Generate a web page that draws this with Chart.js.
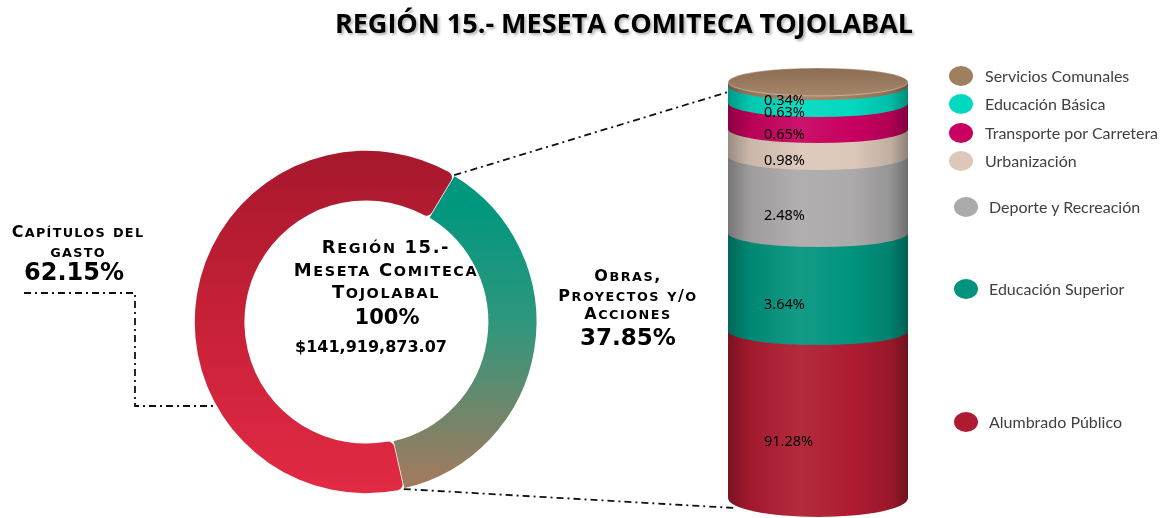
<!DOCTYPE html>
<html lang="es">
<head>
<meta charset="utf-8">
<title>Región 15.- Meseta Comiteca Tojolabal</title>
<script src="https://cdn.jsdelivr.net/npm/chart.js@4.4.1/dist/chart.umd.min.js"></script>
<style>
  html, body { margin: 0; padding: 0; background: #fff; }
  #wrap { position: relative; width: 1165px; height: 518px; overflow: hidden; }
  canvas { position: absolute; left: 0; top: 0; }
  #dona { z-index: 1; }
  #cilindro { z-index: 2; }
  .t { position: absolute; z-index: 3; transform: translate(-50%, -50%); white-space: nowrap; color: #000; line-height: 1; }
  .sc { font-family: "DejaVu Sans", sans-serif; font-weight: bold; }
  .sc .m { font-size: 0.8em; text-transform: uppercase; }
  .num { font-family: "DejaVu Sans", sans-serif; font-weight: bold; }
  #titulo { font-family: "Open Sans", sans-serif; font-weight: 700; font-size: 27px; text-shadow: 2px 2px 3px rgba(0,0,0,0.3); }
  .ley { position: absolute; z-index: 3; font-family: "Lato", sans-serif; font-weight: 400; font-size: 16px; color: #404040; white-space: nowrap; line-height: 1; }
  .ley i { position: absolute; width: 24px; height: 20px; border-radius: 50%; top: -10px; }
  .ley span { position: absolute; top: -8px; }
</style>
</head>
<body>
<div id="wrap">
  <canvas id="dona" width="1165" height="518"></canvas>
  <canvas id="cilindro" width="1165" height="518"></canvas>

  <div class="t" id="titulo" style="left:624px; top:22px;">REGIÓN 15.- MESETA COMITECA TOJOLABAL</div>

  <div class="t sc" style="left:78px; top:232px; font-size:16px; letter-spacing:1.3px;">Capítulos del</div>
  <div class="t sc" style="left:78px; top:252px; font-size:16px; letter-spacing:1.3px;">gasto</div>
  <div class="t num" style="left:74px; top:272px; font-size:24px;">62.15%</div>

  <div class="t sc" style="left:386px; top:247px; font-size:18px; letter-spacing:1.6px;">Región 15.-</div>
  <div class="t sc" style="left:386px; top:270px; font-size:18px; letter-spacing:1.6px;">Meseta Comiteca</div>
  <div class="t sc" style="left:386px; top:292px; font-size:18px; letter-spacing:1.6px;">Tojolabal</div>
  <div class="t num" style="left:387px; top:317px; font-size:21px;">100%</div>
  <div class="t num" style="left:371px; top:347px; font-size:16px;">$141,919,873.07</div>

  <div class="t sc" style="left:628px; top:276px; font-size:16px; letter-spacing:1.5px;">Obras,</div>
  <div class="t sc" style="left:628px; top:296px; font-size:16px; letter-spacing:1.5px;">Proyectos y/o</div>
  <div class="t sc" style="left:628px; top:314px; font-size:16px; letter-spacing:1.5px;">Acciones</div>
  <div class="t num" style="left:628px; top:337px; font-size:23px;">37.85%</div>

  <div id="leyenda"></div>
</div>

<script>
// ---- datos ----
const resumenEtiquetas = ['Obras, Proyectos y/o Acciones', 'Capítulos del gasto'];
const resumenValores = [37.85, 62.15];

const categorias = ['Alumbrado Público', 'Educación Superior', 'Deporte y Recreación',
  'Urbanización', 'Transporte por Carretera', 'Educación Básica', 'Servicios Comunales'];
const porcentajes = [91.28, 3.64, 2.48, 0.98, 0.65, 0.63, 0.34];
// alto de cada franja tal como se ve en el cilindro (la figura no está a escala)
const altoFranja = [167, 98, 77, 27, 26, 17, 4];
const colores = ['#AE1B30', '#00937E', '#ABA9A9', '#DCC7B8', '#C8005F', '#00D8BF', '#A07E60'];

// versalitas: minúsculas en mayúscula pequeña, el texto queda igual
document.querySelectorAll('.sc').forEach(el => {
  const txt = el.textContent;
  el.textContent = '';
  let run = '', low = null;
  const flush = () => {
    if (!run) return;
    if (low) {
      const s = document.createElement('span');
      s.className = 'm';
      s.textContent = run;
      el.appendChild(s);
    } else {
      el.appendChild(document.createTextNode(run));
    }
    run = '';
  };
  for (const ch of txt) {
    const isLow = ch !== ch.toUpperCase();
    if (low !== null && isLow !== low) flush();
    low = isLow;
    run += ch;
  }
  flush();
});

// ---- utilidades de color ----
function hexRgb(h) {
  const n = parseInt(h.slice(1), 16);
  return [(n >> 16) & 255, (n >> 8) & 255, n & 255];
}
function tono(h, f) {
  // f < 0 oscurece, f > 0 aclara
  const c = hexRgb(h).map(v => f < 0 ? v * (1 + f) : v + (255 - v) * f);
  return 'rgb(' + c.map(v => Math.round(v)).join(',') + ')';
}
function degradadoCilindro(ctx, a, color) {
  const g = ctx.createLinearGradient(a.left, 0, a.right, 0);
  g.addColorStop(0, tono(color, -0.3));
  g.addColorStop(0.12, tono(color, -0.08));
  g.addColorStop(0.4, tono(color, 0.07));
  g.addColorStop(0.7, color);
  g.addColorStop(0.9, tono(color, -0.12));
  g.addColorStop(1, tono(color, -0.35));
  return g;
}

// ---- dona ----
function colorDona(context) {
  const chart = context.chart;
  const a = chart.chartArea;
  if (!a) return context.dataIndex === 0 ? '#00937E' : '#C21F36';
  const ctx = chart.ctx;
  const g = ctx.createLinearGradient(0, a.top, 0, a.bottom);
  if (context.dataIndex === 0) {
    g.addColorStop(0, '#00977F');
    g.addColorStop(0.15, '#00977F');
    g.addColorStop(0.5, '#2E977D');
    g.addColorStop(0.95, '#9E7B5E');
    g.addColorStop(1, '#9E7B5E');
  } else {
    g.addColorStop(0, '#A6182D');
    g.addColorStop(0.5, '#C72137');
    g.addColorStop(1, '#E22A44');
  }
  return g;
}

const guias = {
  id: 'guias',
  afterDraw(chart) {
    const ctx = chart.ctx;
    const arco = chart.getDatasetMeta(0).data[0];
    const r = arco.outerRadius;
    const p1 = [arco.x + r * Math.cos(arco.startAngle), arco.y + r * Math.sin(arco.startAngle)];
    const p2 = [arco.x + r * Math.cos(arco.endAngle), arco.y + r * Math.sin(arco.endAngle)];
    ctx.save();
    ctx.strokeStyle = '#111';
    ctx.lineWidth = 1.8;
    ctx.setLineDash([7, 4, 2, 4]);
    ctx.beginPath();
    ctx.moveTo(24, 293); ctx.lineTo(135, 293); ctx.lineTo(135, 406); ctx.lineTo(213, 406);
    ctx.stroke();
    ctx.beginPath();
    ctx.moveTo(p1[0], p1[1]); ctx.lineTo(728, 92);
    ctx.stroke();
    ctx.beginPath();
    ctx.moveTo(p2[0], p2[1]); ctx.lineTo(735, 508);
    ctx.stroke();
    ctx.restore();
  }
};

new Chart(document.getElementById('dona'), {
  type: 'doughnut',
  data: {
    labels: resumenEtiquetas,
    datasets: [{
      data: resumenValores,
      backgroundColor: colorDona,
      borderColor: '#fff',
      borderWidth: [1.5, 0],
      borderRadius: [0, 6]
    }]
  },
  options: {
    responsive: false,
    animation: false,
    cutout: '71%',
    rotation: 31,
    layout: { padding: { left: 194, right: 627, top: 150, bottom: 24 } },
    plugins: { legend: { display: false }, tooltip: { enabled: false } }
  },
  plugins: [guias]
});

// ---- cilindro ----
const cilindro3d = {
  id: 'cilindro3d',
  afterDatasetsDraw(chart) {
    const { ctx, chartArea: a } = chart;
    const cx = (a.left + a.right) / 2, rx = (a.right - a.left) / 2;
    const n = chart.data.datasets.length;
    ctx.save();
    for (let i = 0; i < n; i++) {
      const el = chart.getDatasetMeta(i).data[0];
      const ry = i === 0 ? 19 : 14;
      ctx.fillStyle = degradadoCilindro(ctx, a, colores[i]);
      ctx.beginPath();
      ctx.ellipse(cx, el.base, rx, ry, 0, 0, Math.PI);
      ctx.lineTo(a.left, el.base - 2);
      ctx.lineTo(a.right, el.base - 2);
      ctx.closePath();
      ctx.fill();
    }
    // tapa superior
    const tope = chart.getDatasetMeta(n - 1).data[0].y;
    const g = ctx.createLinearGradient(0, tope - 14, 0, tope + 14);
    g.addColorStop(0, '#8C6D53');
    g.addColorStop(1, '#A68669');
    ctx.fillStyle = g;
    ctx.beginPath();
    ctx.ellipse(cx, tope, rx, 14, 0, 0, Math.PI * 2);
    ctx.fill();
    ctx.strokeStyle = 'rgba(255,255,255,0.35)';
    ctx.lineWidth = 1;
    ctx.stroke();
    ctx.restore();
  },
  afterDraw(chart) {
    const ctx = chart.ctx;
    ctx.save();
    ctx.fillStyle = '#000';
    ctx.font = '14.5px "Noto Sans"';
    ctx.textBaseline = 'middle';
    chart.data.datasets.forEach((ds, i) => {
      const el = chart.getDatasetMeta(i).data[0];
      const h = el.base - el.y;
      const y = (el.y + el.base) / 2 + 17 + h * 0.06;
      ctx.fillText(porcentajes[i].toFixed(2) + '%', 764, y);
    });
    ctx.restore();
  }
};

const totalAlto = altoFranja.reduce((s, v) => s + v, 0);

new Chart(document.getElementById('cilindro'), {
  type: 'bar',
  data: {
    labels: ['Región 15'],
    datasets: categorias.map((c, i) => ({
      label: c,
      data: [altoFranja[i]],
      backgroundColor: (context) => {
        const a = context.chart.chartArea;
        if (!a) return colores[i];
        return degradadoCilindro(context.chart.ctx, a, colores[i]);
      },
      borderWidth: 0,
      barPercentage: 1,
      categoryPercentage: 1
    }))
  },
  options: {
    responsive: false,
    animation: false,
    layout: { padding: { left: 728, right: 257, top: 82, bottom: 20 } },
    scales: {
      x: { display: false, stacked: true },
      y: { display: false, stacked: true, min: 0, max: totalAlto }
    },
    plugins: { legend: { display: false }, tooltip: { enabled: false } }
  },
  plugins: [cilindro3d]
});

// ---- leyenda ----
const leyendaY = [422, 289, 207, 161, 133, 104, 76];
const leyendaX = [966, 966, 966, 961, 961, 961, 961];
const ley = document.getElementById('leyenda');
categorias.forEach((c, i) => {
  const d = document.createElement('div');
  d.className = 'ley';
  d.style.left = (leyendaX[i] - 12) + 'px';
  d.style.top = leyendaY[i] + 'px';
  d.innerHTML = '<i style="background:' + colores[i] + '"></i><span style="left:' + (leyendaX[i] === 966 ? 35 : 36) + 'px">' + c + '</span>';
  ley.appendChild(d);
});
</script>
</body>
</html>
